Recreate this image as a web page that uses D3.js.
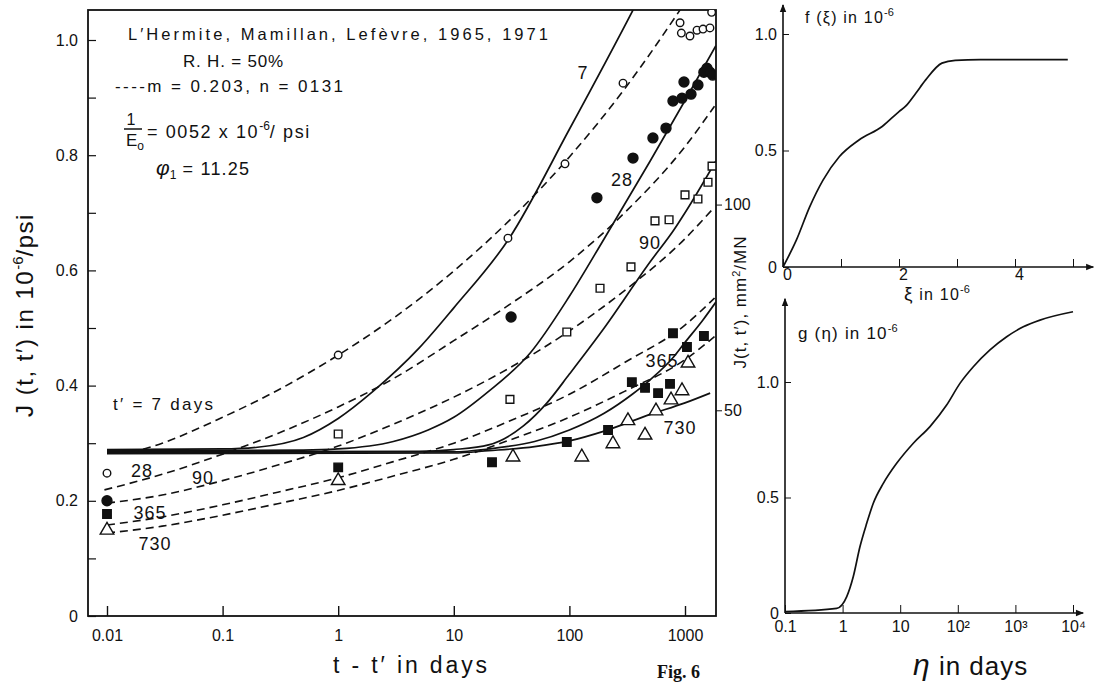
<!DOCTYPE html>
<html>
<head>
<meta charset="utf-8">
<script src="https://cdn.jsdelivr.net/npm/d3@7"></script>
<style>
  body { margin: 0; background: #fff; }
  text { font-family: "Liberation Sans", "DejaVu Sans", sans-serif; fill: #111; }
  .tick text { font-size: 16px; }
</style>
</head>
<body>
<svg id="chart" width="1096" height="685"></svg>
<script>
// ---- main chart data: J(t,t') in 1e-6/psi against t - t' (days) ----
var ages = ["7", "28", "90", "365", "730"];

// solid lines (computed)
var solid7   = [[0.01,0.289],[0.1,0.290],[0.2,0.293],[0.5,0.31],[1,0.343],[2,0.39],[5,0.465],[10,0.535],[30,0.655],[100,0.845],[355,1.052],[500,1.11]];
var solid28  = [[0.01,0.287],[0.5,0.288],[1,0.29],[3,0.303],[6,0.323],[10,0.345],[20,0.39],[46,0.457],[100,0.555],[200,0.655],[500,0.79],[1000,0.895],[1850,0.99]];
var solid90  = [[0.01,0.285],[5,0.286],[10,0.289],[20,0.297],[40,0.33],[64,0.37],[100,0.42],[200,0.50],[500,0.615],[800,0.67],[1000,0.70],[1850,0.79]];
var solid365 = [[0.01,0.284],[10,0.285],[20,0.29],[50,0.303],[100,0.323],[200,0.352],[350,0.385],[500,0.41],[800,0.45],[1000,0.475],[1430,0.514],[1850,0.545]];
var solid730 = [[0.01,0.282],[10,0.283],[20,0.287],[50,0.294],[100,0.304],[200,0.321],[500,0.35],[1000,0.37],[1650,0.387]];

// dashed lines (m = 0.203, n = 0.131)
var dashed7   = [[0.016,0.283],[0.03,0.300],[0.1,0.345],[0.3,0.392],[1,0.453],[3,0.517],[10,0.599],[30,0.686],[100,0.797],[300,0.915],[1000,1.065]];
var dashed28  = [[0.0095,0.219],[0.03,0.246],[0.1,0.281],[0.3,0.317],[1,0.363],[3,0.412],[10,0.478],[30,0.54],[100,0.615],[300,0.7],[1000,0.815],[1800,0.885]];
var dashed90  = [[0.01,0.196],[0.03,0.21],[0.1,0.235],[0.3,0.262],[1,0.295],[3,0.333],[10,0.38],[30,0.43],[100,0.495],[300,0.565],[1000,0.655],[1800,0.71]];
var dashed365 = [[0.01,0.158],[0.03,0.172],[0.1,0.193],[0.3,0.215],[1,0.24],[3,0.268],[10,0.3],[30,0.338],[100,0.385],[300,0.44],[1000,0.505],[1800,0.552]];
var dashed730 = [[0.01,0.144],[0.03,0.156],[0.1,0.175],[0.3,0.195],[1,0.218],[3,0.243],[10,0.272],[30,0.305],[100,0.345],[300,0.39],[1000,0.445],[1800,0.485]];

// measured points
var obs7   = [[0.01,0.248],[1,0.453],[29.4,0.656],[91.6,0.785],[291,0.925],[906,1.03],[930,1.012],[1104,1.007],[1270,1.017],[1432,1.019],[1644,1.021],[1700,1.048]];
var obs28  = [[0.01,0.2],[31.3,0.519],[173,0.726],[355,0.795],[528,0.83],[685,0.847],[787,0.894],[942,0.899],[980,0.927],[1127,0.906],[1294,0.922],[1456,0.944],[1549,0.951],[1644,0.944],[1740,0.939]];
var obs90  = [[1,0.316],[30.6,0.376],[95,0.493],[184,0.569],[341,0.606],[550,0.686],[728,0.688],[1000,0.731],[1294,0.724],[1581,0.753],[1714,0.781]];
var obs365 = [[0.01,0.177],[1,0.258],[21.4,0.267],[95,0.302],[216,0.323],[347,0.406],[451,0.396],[585,0.387],[742,0.403],[787,0.491],[1040,0.467],[1458,0.486]];
var obs730 = [[0.01,0.149],[1,0.235],[32.5,0.276],[128,0.276],[238,0.299],[321,0.339],[451,0.314],[561,0.356],[757,0.375],[942,0.391],[1062,0.439]];

var xTicks = [0.01, 0.1, 1, 10, 100, 1000];
var xTickLabels = ["0.01", "0.1", "1", "10", "100", "1000"];
var yTicks = [0, 0.1, 0.2, 0.3, 0.4, 0.5, 0.6, 0.7, 0.8, 0.9, 1.0];
var yTickLabels = ["0", "", "0.2", "", "0.4", "", "0.6", "", "0.8", "", "1.0"];
var rightTicks = [50, 100];

// ---- side panels ----
var xiVals = [0, 0.23, 0.46, 0.69, 0.97, 1.31, 1.71, 2.0, 2.11, 2.29, 2.46, 2.74, 2.97, 3.4, 4.91];
var fVals  = [0, 0.115, 0.258, 0.373, 0.473, 0.545, 0.603, 0.667, 0.689, 0.746, 0.803, 0.875, 0.887, 0.89, 0.89];
var fTicks = [0, 1, 2, 3, 4, 5];
var fTickLabels = ["0", "", "2", "", "4", ""];

var etaVals = [0.1, 0.79, 1.18, 1.53, 2.0, 2.62, 3.41, 5.09, 8.68, 16.9, 32.9, 64, 109, 186, 362, 706, 1371, 2673, 10000];
var gVals   = [0.006, 0.02, 0.071, 0.157, 0.287, 0.388, 0.475, 0.561, 0.648, 0.735, 0.807, 0.9, 0.994, 1.066, 1.139, 1.196, 1.239, 1.268, 1.304];
var gTicks = [0.1, 1, 10, 100, 1000, 10000];
var gTickLabels = ["0.1", "1", "10", "10²", "10³", "10⁴"];

var svg = d3.select("#chart");

var frame = { left: 88, right: 716, top: 10, bottom: 616 };

var x = d3.scaleLog().domain([0.01, 1000]).range([107, 685]);
var y = d3.scaleLinear().domain([0, 1]).range([616, 40]);
var yRight = d3.scaleLinear().domain([0, 140]).range([616, 40]);

var defs = svg.append("defs");
defs.append("clipPath").attr("id", "plotClip")
    .append("rect")
    .attr("x", frame.left).attr("y", frame.top)
    .attr("width", frame.right - frame.left).attr("height", frame.bottom - frame.top);

defs.append("marker")
    .attr("id", "arrow")
    .attr("viewBox", "0 0 10 10")
    .attr("refX", 9).attr("refY", 5)
    .attr("markerUnits", "userSpaceOnUse")
    .attr("markerWidth", 9).attr("markerHeight", 8)
    .attr("orient", "auto")
    .append("path").attr("d", "M0,1L10,5L0,9z").attr("fill", "#111");

// frame
svg.append("rect")
    .attr("x", frame.left).attr("y", frame.top)
    .attr("width", frame.right - frame.left).attr("height", frame.bottom - frame.top)
    .attr("fill", "none").attr("stroke", "#111").attr("stroke-width", 1.8);

// x axis, ticks pointing up into the plot
var xAxis = d3.axisBottom(x)
    .tickValues(xTicks)
    .tickFormat((d, i) => xTickLabels[i])
    .tickSizeInner(-10).tickSizeOuter(0).tickPadding(14);
var gx = svg.append("g").attr("transform", "translate(0," + frame.bottom + ")").call(xAxis);
gx.select(".domain").remove();
gx.selectAll("line").attr("stroke", "#111").attr("stroke-width", 1.4);
gx.selectAll(".tick text").attr("font-size", 17);

var yAxis = d3.axisLeft(y)
    .tickValues(yTicks)
    .tickFormat((d, i) => yTickLabels[i])
    .tickSizeInner(-8).tickSizeOuter(0).tickPadding(10);
var gy = svg.append("g").attr("transform", "translate(" + frame.left + ",0)").call(yAxis);
gy.select(".domain").remove();
gy.selectAll("line").attr("stroke", "#111").attr("stroke-width", 1.2);
gy.selectAll(".tick text").attr("font-size", 17);

var rAxis = d3.axisRight(yRight)
    .tickValues(rightTicks)
    .tickSizeInner(6).tickSizeOuter(0).tickPadding(2);
var gr = svg.append("g").attr("transform", "translate(" + frame.right + ",0)").call(rAxis);
gr.select(".domain").remove();
gr.selectAll("line").attr("stroke", "#111");
gr.selectAll(".tick text").attr("font-size", 17);

svg.selectAll(".tick text").attr("fill", "#111");

// curves
var line = d3.line()
    .x(d => x(d[0]))
    .y(d => y(d[1]))
    .curve(d3.curveMonotoneX);

var plot = svg.append("g").attr("clip-path", "url(#plotClip)");

plot.selectAll(".solid")
    .data([solid7, solid28, solid90, solid365, solid730])
    .join("path")
    .attr("class", "solid")
    .attr("d", line)
    .attr("fill", "none")
    .attr("stroke", "#111")
    .attr("stroke-width", 1.7);

plot.selectAll(".dashed")
    .data([dashed7, dashed28, dashed90, dashed365, dashed730])
    .join("path")
    .attr("class", "dashed")
    .attr("d", line)
    .attr("fill", "none")
    .attr("stroke", "#111")
    .attr("stroke-width", 1.6)
    .attr("stroke-dasharray", "8,5");

// markers
var markerSets = [
    { data: obs7,   type: d3.symbolCircle,   size: 45,  filled: false },
    { data: obs28,  type: d3.symbolCircle,   size: 78,  filled: true },
    { data: obs90,  type: d3.symbolSquare,   size: 60,  filled: false },
    { data: obs365, type: d3.symbolSquare,   size: 72,  filled: true },
    { data: obs730, type: d3.symbolTriangle, size: 80,  filled: false }
];
markerSets.forEach(function (set) {
    plot.append("g").selectAll("path")
        .data(set.data)
        .join("path")
        .attr("transform", d => "translate(" + x(d[0]) + "," + y(d[1]) + ")")
        .attr("d", d3.symbol().type(set.type).size(set.size))
        .attr("fill", set.filled ? "#111" : "#fff")
        .attr("stroke", "#111")
        .attr("stroke-width", 1.4);
});

// curve labels (t' values)
var labelSpots = [
    [ages[0], 131, 0.944], [ages[1], 285, 0.757], [ages[2], 498, 0.649], [ages[3], 632, 0.444], [ages[4], 906, 0.328],
    [ages[1], 0.0201, 0.253], [ages[2], 0.0676, 0.240], [ages[3], 0.0236, 0.179], [ages[4], 0.026, 0.125]
];
svg.append("g").selectAll("text")
    .data(labelSpots)
    .join("text")
    .attr("x", d => x(d[1]))
    .attr("y", d => y(d[2]))
    .attr("dy", "0.36em")
    .attr("text-anchor", "middle")
    .attr("font-size", 18)
    .attr("letter-spacing", 1)
    .text(d => d[0]);

svg.append("text").attr("x", 113).attr("y", 410).attr("font-size", 17)
    .attr("textLength", 100).text("t\u2032 = 7 days");

// header notes
svg.append("text").attr("x", 128).attr("y", 40).attr("font-size", 16.5)
    .attr("textLength", 420).text("L\u2032Hermite,  Mamillan,  Lef\u00e8vre, 1965, 1971");
svg.append("text").attr("x", 183).attr("y", 67).attr("font-size", 17)
    .attr("textLength", 100).text("R. H. = 50%");
svg.append("text").attr("x", 115).attr("y", 92).attr("font-size", 17)
    .attr("textLength", 228).text("----m = 0.203,  n = 0131");
svg.append("text").attr("x", 131).attr("y", 125).attr("font-size", 16).attr("text-anchor", "middle").text("1");
svg.append("line").attr("x1", 124).attr("x2", 142).attr("y1", 129).attr("y2", 129)
    .attr("stroke", "#111").attr("stroke-width", 1.5);
svg.append("text").attr("x", 126).attr("y", 146).attr("font-size", 17)
    .html('E<tspan font-size="12" dy="4">o</tspan>');
var eo = svg.append("text").attr("x", 147).attr("y", 138).attr("font-size", 18).attr("letter-spacing", 1.6);
eo.append("tspan").text("= 0052  x  10");
eo.append("tspan").attr("font-size", 12).attr("dy", -8).attr("letter-spacing", 0).text("-6");
eo.append("tspan").attr("dy", 8).text("/ psi");
var phi = svg.append("text").attr("x", 156).attr("y", 175).attr("font-size", 21);
phi.append("tspan").attr("font-style", "italic").text("\u03c6");
phi.append("tspan").attr("font-size", 12).attr("dy", 4).text("1");
phi.append("tspan").attr("dy", -4).attr("font-size", 18).attr("letter-spacing", 1.2).text(" = 11.25");

// axis titles
var yt = svg.append("text")
    .attr("transform", "translate(33,315) rotate(-90)")
    .attr("text-anchor", "middle")
    .attr("font-size", 24)
    .attr("letter-spacing", 1.5);
yt.append("tspan").text("J (t, t\u2032) in 10");
yt.append("tspan").attr("font-size", 15).attr("dy", -10).attr("letter-spacing", 0).text("-6");
yt.append("tspan").attr("dy", 10).text("/psi");

var yt2 = svg.append("text")
    .attr("transform", "translate(746,302) rotate(-90)")
    .attr("text-anchor", "middle")
    .attr("font-size", 17)
    .attr("letter-spacing", 1);
yt2.append("tspan").text("J(t, t\u2032),  mm");
yt2.append("tspan").attr("font-size", 11).attr("dy", -6).text("2");
yt2.append("tspan").attr("dy", 6).text("/MN");

svg.append("text").attr("x", 333).attr("y", 673).attr("font-size", 23)
    .attr("textLength", 154).text("t - t\u2032  in days");
svg.append("text").attr("x", 657).attr("y", 678).attr("font-size", 18)
    .attr("font-weight", "bold")
    .style("font-family", "'Liberation Serif', 'DejaVu Serif', serif")
    .text("Fig. 6");

// ---- f(xi) panel ----
var fx = d3.scaleLinear().domain([0, 5]).range([783, 1073]);
var fy = d3.scaleLinear().domain([0, 1]).range([267, 34]);

var fAxisX = d3.axisBottom(fx).tickValues(fTicks).tickFormat((d, i) => fTickLabels[i])
    .tickSizeInner(-8).tickSizeOuter(0).tickPadding(2);
var gfx = svg.append("g").attr("transform", "translate(0," + fy(0) + ")").call(fAxisX);
gfx.select(".domain").remove();
gfx.selectAll(".tick text").attr("dx", 4).attr("font-size", 17).attr("fill", "#111");
gfx.selectAll("line").attr("stroke", "#111");

var fAxisY = d3.axisLeft(fy).tickValues([0, 0.5, 1]).tickFormat(d3.format(".1f"))
    .tickSizeInner(-6).tickSizeOuter(0).tickPadding(6);
var gfy = svg.append("g").attr("transform", "translate(" + fx(0) + ",0)").call(fAxisY);
gfy.select(".domain").remove();
gfy.selectAll(".tick text").filter(d => d === 0).text("0");
gfy.selectAll(".tick text").attr("font-size", 17).attr("fill", "#111");
gfy.selectAll("line").attr("stroke", "#111");

svg.append("line").attr("x1", fx(0)).attr("y1", fy(0)).attr("x2", fx(5.35)).attr("y2", fy(0))
    .attr("stroke", "#111").attr("stroke-width", 1.6).attr("marker-end", "url(#arrow)");
svg.append("line").attr("x1", fx(0)).attr("y1", fy(0)).attr("x2", fx(0)).attr("y2", fy(1.125))
    .attr("stroke", "#111").attr("stroke-width", 1.6).attr("marker-end", "url(#arrow)");

var fLine = d3.line().x((d, i) => fx(xiVals[i])).y(d => fy(d)).curve(d3.curveMonotoneX);
svg.append("path").datum(fVals).attr("d", fLine)
    .attr("fill", "none").attr("stroke", "#111").attr("stroke-width", 1.7);

var ft = svg.append("text").attr("x", 805).attr("y", 23).attr("font-size", 16).attr("letter-spacing", 1.2);
ft.append("tspan").text("f (\u03be)  in 10");
ft.append("tspan").attr("font-size", 11).attr("dy", -7).attr("letter-spacing", 0).text("-6");
var xt = svg.append("text").attr("x", 904).attr("y", 300).attr("font-size", 16).attr("letter-spacing", 1.2);
xt.append("tspan").attr("font-size", 19).text("\u03be");
xt.append("tspan").text("  in 10");
xt.append("tspan").attr("font-size", 11).attr("dy", -7).attr("letter-spacing", 0).text("-6");

// ---- g(eta) panel ----
var gxs = d3.scaleLog().domain([0.1, 10000]).range([785, 1073]);
var gys = d3.scaleLinear().domain([0, 1]).range([613, 382]);

var gAxisX = d3.axisBottom(gxs).tickValues(gTicks).tickFormat((d, i) => gTickLabels[i])
    .tickSizeInner(-8).tickSizeOuter(0).tickPadding(8);
var ggx = svg.append("g").attr("transform", "translate(0," + gys(0) + ")").call(gAxisX);
ggx.select(".domain").remove();
ggx.selectAll(".tick text").attr("font-size", 16).attr("fill", "#111");
ggx.selectAll("line").attr("stroke", "#111");

var gAxisY = d3.axisLeft(gys).tickValues([0, 0.5, 1]).tickFormat(d3.format(".1f"))
    .tickSizeInner(-6).tickSizeOuter(0).tickPadding(6);
var ggy = svg.append("g").attr("transform", "translate(" + gxs(0.1) + ",0)").call(gAxisY);
ggy.select(".domain").remove();
ggy.selectAll(".tick text").filter(d => d === 0).text("0");
ggy.selectAll(".tick text").attr("font-size", 17).attr("fill", "#111");
ggy.selectAll("line").attr("stroke", "#111");

svg.append("line").attr("x1", gxs(0.1)).attr("y1", gys(0)).attr("x2", gxs(15000)).attr("y2", gys(0))
    .attr("stroke", "#111").attr("stroke-width", 1.6).attr("marker-end", "url(#arrow)");
svg.append("line").attr("x1", gxs(0.1)).attr("y1", gys(0)).attr("x2", gxs(0.1)).attr("y2", gys(1.36))
    .attr("stroke", "#111").attr("stroke-width", 1.6).attr("marker-end", "url(#arrow)");

var gLine = d3.line().x((d, i) => gxs(etaVals[i])).y(d => gys(d)).curve(d3.curveMonotoneX);
svg.append("path").datum(gVals).attr("d", gLine)
    .attr("fill", "none").attr("stroke", "#111").attr("stroke-width", 1.7);

var gt = svg.append("text").attr("x", 798).attr("y", 339).attr("font-size", 17).attr("letter-spacing", 1.2);
gt.append("tspan").text("g (\u03b7)  in 10");
gt.append("tspan").attr("font-size", 11).attr("dy", -7).attr("letter-spacing", 0).text("-6");
var et = svg.append("text").attr("x", 913).attr("y", 675).attr("font-size", 26).attr("letter-spacing", 1);
et.append("tspan").attr("font-style", "italic").attr("font-size", 30).text("\u03b7");
et.append("tspan").text(" in days");
</script>
</body>
</html>
